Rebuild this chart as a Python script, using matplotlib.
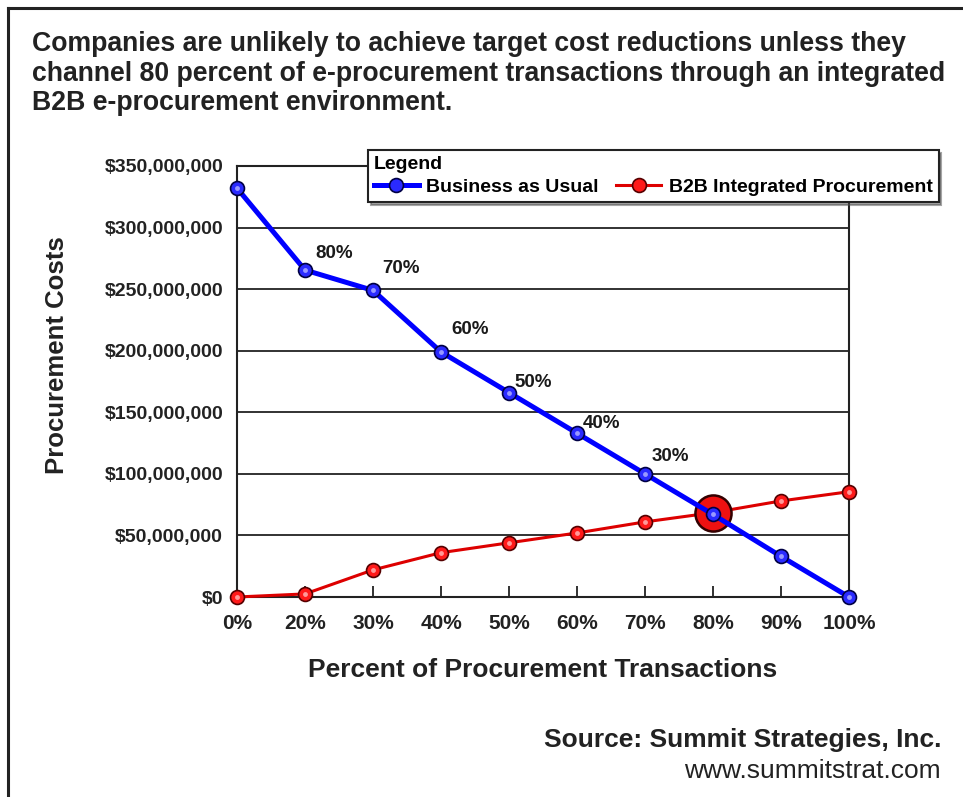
import matplotlib.pyplot as plt
from matplotlib.ticker import FuncFormatter

# data (costs in dollars)
categories = ['0%', '20%', '30%', '40%', '50%', '60%', '70%', '80%', '90%', '100%']
business_as_usual = [332e6, 265.5e6, 249e6, 199e6, 166e6, 133e6, 100e6, 67e6, 33e6, 0]
b2b_integrated = [0, 2.5e6, 22e6, 36e6, 44e6, 52e6, 61e6, 68.5e6, 78e6, 85.5e6]
point_labels = ['80%', '70%', '60%', '50%', '40%', '30%']   # on points 1..6 of the blue line
crossover_index = 7

TITLE = ("Companies are unlikely to achieve target cost reductions unless they\n"
         "channel 80 percent of e-procurement transactions through an integrated\n"
         "B2B e-procurement environment.")

plt.rcParams['font.family'] = ['Liberation Sans', 'DejaVu Sans']

W, H = 963, 797
fig = plt.figure(figsize=(W / 100, H / 100), dpi=100)
fig.patch.set_facecolor('white')

# outer frame (runs off the right and bottom edges)
fig.add_artist(plt.Line2D([8 / W, 1.0], [1 - 8 / H, 1 - 8 / H], color='#222222', lw=2.2,
                          transform=fig.transFigure))
fig.add_artist(plt.Line2D([8 / W, 8 / W], [0.0, 1 - 8 / H], color='#222222', lw=2.2,
                          transform=fig.transFigure))

fig.text(32 / W, 1 - 31 / H, TITLE, ha='left', va='top', fontsize=19.2, fontweight='bold',
         color='#222222', linespacing=1.18)

ax = fig.add_axes([237 / W, 1 - 597 / H, 612 / W, 431 / H])
x = list(range(len(categories)))

for y in range(0, 350_000_001, 50_000_000):
    ax.axhline(y, color='#222222', lw=1.3, zorder=1)

ax.plot(x, b2b_integrated, color='#dd0000', lw=2.2, marker='o', ms=10,
        mfc='#ff1a1a', mec='#550000', mew=1.2, clip_on=False, zorder=3,
        label='B2B Integrated Procurement')
ax.plot(x[crossover_index], b2b_integrated[crossover_index], marker='o', ms=26,
        mfc='#ee1111', mec='#330000', mew=1.8, clip_on=False, zorder=4)
ax.plot(x, business_as_usual, color='#0000ff', lw=3.6, marker='o', ms=10,
        mfc='#2a2aff', mec='#000044', mew=1.2, clip_on=False, zorder=5,
        label='Business as Usual')

# glossy highlights on the markers
ax.plot(x, b2b_integrated, ls='none', marker='o', ms=3.5, mfc='#ff9999', mew=0,
        clip_on=False, zorder=3.5)
ax.plot(x, business_as_usual, ls='none', marker='o', ms=3.5, mfc='#9999ff', mew=0,
        clip_on=False, zorder=5.5)

label_offsets = [(10, 17), (9, 22), (10, 22), (5, 10), (6, 10), (7, 17)]
for i, (txt, off) in enumerate(zip(point_labels, label_offsets), start=1):
    ax.annotate(txt, (x[i], business_as_usual[i]), xytext=off, textcoords='offset pixels',
                ha='left', va='center', fontsize=13.5, fontweight='bold', color='#1a1a1a',
                zorder=6)

ax.set_xlim(0, len(categories) - 1)
ax.set_ylim(0, 350e6)
ax.set_xticks(x)
ax.set_xticklabels(categories)
ax.set_yticks(range(0, 350_000_001, 50_000_000))
ax.yaxis.set_major_formatter(FuncFormatter(lambda v, p: f'${v:,.0f}'))
ax.tick_params(axis='x', direction='in', length=8, width=1.3, color='#222222', pad=12,
               labelsize=15)
ax.tick_params(axis='y', length=0, pad=10, labelsize=14)
for lab in ax.get_xticklabels() + ax.get_yticklabels():
    lab.set_fontweight('bold')
    lab.set_color('#222222')
for s in ax.spines.values():
    s.set_color('#222222')
    s.set_linewidth(1.5)

fig.text(57 / W, 1 - 355 / H, 'Procurement Costs', rotation=90, ha='center', va='center',
         fontsize=18.5, fontweight='bold', color='#222222')
fig.text(543 / W, 1 - 670 / H, 'Percent of Procurement Transactions', ha='center', va='center',
         fontsize=19, fontweight='bold', color='#222222')

handles, labels = ax.get_legend_handles_labels()
leg = ax.legend(handles[::-1], labels[::-1], title='Legend', ncol=2, loc='upper left',
                bbox_to_anchor=(368 / W, 1 - 150 / H), bbox_transform=fig.transFigure,
                borderaxespad=0, frameon=True, fancybox=False, shadow=True,
                edgecolor='#222222', framealpha=1, prop={'weight': 'bold', 'size': 14},
                title_fontproperties={'weight': 'bold', 'size': 14},
                alignment='left', handlelength=2.3, handletextpad=0.4, columnspacing=0.9,
                borderpad=0.3, labelspacing=0.3)
leg.get_frame().set_linewidth(1.5)

fig.text(941 / W, 1 - 740 / H, 'Source: Summit Strategies, Inc.', ha='right', va='center',
         fontsize=19, fontweight='bold', color='#222222')
fig.text(941 / W, 1 - 771 / H, 'www.summitstrat.com', ha='right', va='center',
         fontsize=19, color='#222222')

fig.savefig('out.png', dpi=100)
